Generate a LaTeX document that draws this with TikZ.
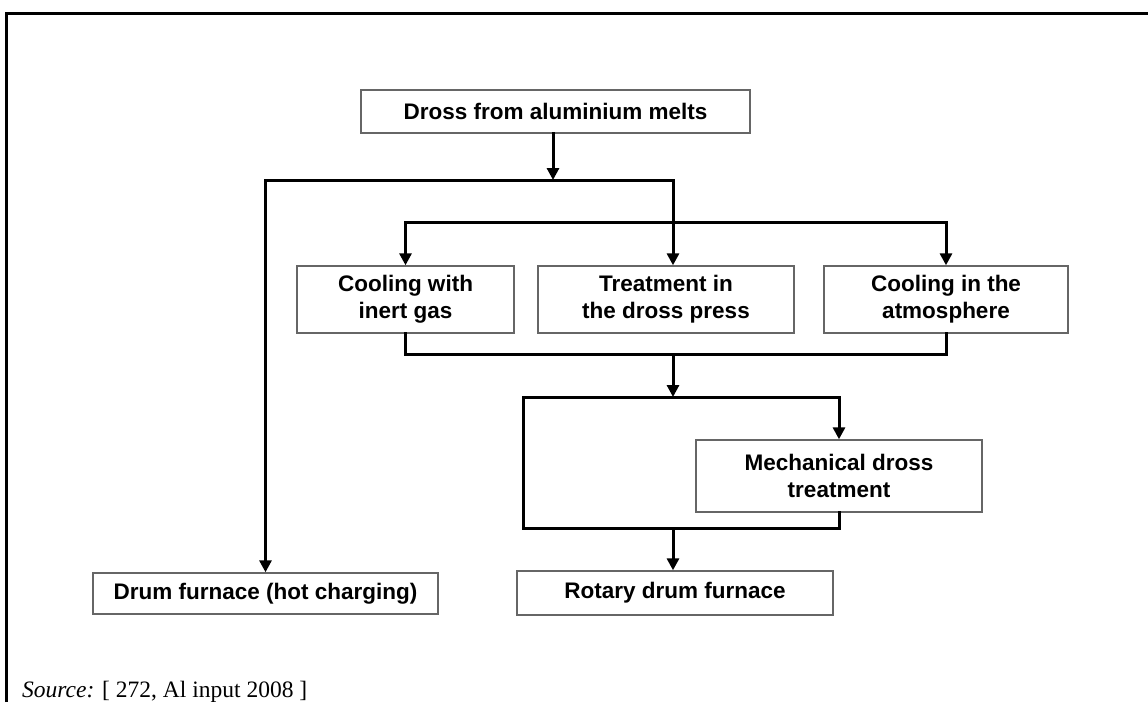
\documentclass[tikz,border=0pt]{standalone}
\usepackage{fontspec}
\setmainfont{Liberation Serif}
\newfontfamily\boxfont{Liberation Sans}
\usetikzlibrary{arrows.meta}
\tikzset{
  flowbox/.style={draw=black!60, line width=1.4pt, rectangle, align=center, inner sep=0pt,
    font=\boxfont\bfseries\fontsize{22.5}{27}\selectfont},
  conn/.style={line width=3pt, line cap=rect, line join=miter},
  arr/.style={conn, -{Triangle[width=12pt,length=12pt]}},
}
\begin{document}
\begin{tikzpicture}[x=1pt,y=-1pt]
\useasboundingbox (0,0) rectangle (1148,702);
\fill[white] (0,0) rectangle (1148,702);
% frame
\draw[line width=3pt] (6,702) -- (6,13) -- (1148,13);
% nodes
\node[flowbox, minimum width=389pt, minimum height=43pt] (dross) at (555.5,111.5) {Dross from aluminium melts};
\node[flowbox, minimum width=217pt, minimum height=67pt] (inert) at (405.5,299.5) {Cooling with\\inert gas};
\node[flowbox, minimum width=256pt, minimum height=67pt] (treat) at (666,299.5) {Treatment in\\the dross press};
\node[flowbox, minimum width=244pt, minimum height=67pt] (atmos) at (946,299.5) {Cooling in the\\atmosphere};
\node[flowbox, minimum width=286pt, minimum height=72pt] (mech) at (839,476) {Mechanical dross\\treatment};
\node[flowbox, minimum width=345pt, minimum height=41pt] (drum) at (265.5,593.5) {Drum furnace (hot charging)};
\node[flowbox, minimum width=316pt, minimum height=44pt] (rotary) at (675,593) {Rotary drum furnace};
\node[anchor=base west, inner sep=0pt, font=\fontsize{23.5}{28}\selectfont] (src) at (22,697) {\textit{Source:} [ 272, Al input 2008 ]};
% junction coordinates
\coordinate (j1) at (553,180);
\coordinate (tx) at (673,0);
\coordinate (j2) at (673,222);
\coordinate (j3) at (673,354);
\coordinate (j4) at (673,397);
\coordinate (lc) at (523,528);
\coordinate (j5) at (673,528);
% connectors
\draw[arr] (dross.south -| j1) -- (j1);
\draw[arr] (j1) -| (drum.north);
\draw[arr] (j1) -| (treat.north -| tx);
\draw[arr] (j2) -| (inert.north);
\draw[arr] (j2) -| (atmos.north);
\draw[conn] (inert.south) |- (j3) -| (atmos.south);
\draw[arr] (j3) -- (j4);
\draw[arr] (j4) -| (mech.north);
\draw[conn] (j4) -| (lc) -- (j5);
\draw[conn] (mech.south) |- (j5);
\draw[arr] (j5) -- (rotary.north -| j5);
\end{tikzpicture}
\end{document}
